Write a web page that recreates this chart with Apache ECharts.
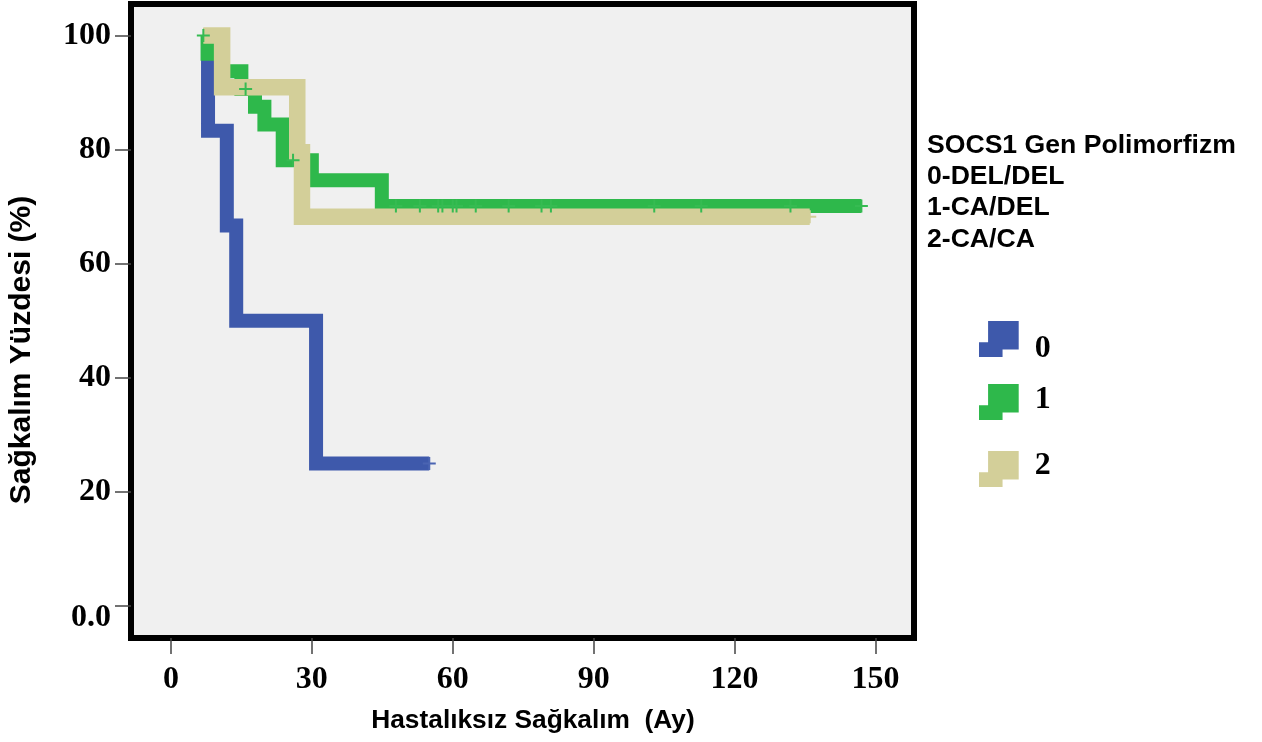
<!DOCTYPE html>
<html>
<head>
<meta charset="utf-8">
<script src="https://cdn.jsdelivr.net/npm/echarts@6/dist/echarts.min.js"></script>
<style>
html,body{margin:0;padding:0;background:#fff;}
#c{width:1262px;height:742px;}
</style>
</head>
<body>
<div id="c"></div>
<script>
// ---- data ----
const groupNames = ['0', '1', '2'];
const xTickValues = [0, 30, 60, 90, 120, 150];
const yTickValues = [0, 20, 40, 60, 80, 100];

// Kaplan-Meier step curves (time in months, survival %)
const blueTimes = [6.9, 7.9, 11.9, 13.9, 30.9, 55.0];
const blueSurv  = [100, 83.3, 66.7, 50.0, 25.0, 25.0];
const greenTimes = [6.9, 7.8, 10.9, 15.0, 17.9, 19.9, 23.8, 30.0, 44.9, 147.0];
const greenSurv  = [100, 96.8, 93.7, 90.6, 87.5, 84.4, 78.1, 74.6, 70.1, 70.1];
const tanTimes = [6.9, 10.9, 26.9, 27.9, 136.0];
const tanSurv  = [100, 90.9, 79.5, 68.2, 68.2];

// censored observations
const blueCensorT = [55.0];
const blueCensorS = [25.0];
const greenCensorT = [6.9, 15.9, 26.0, 47.9, 53.0, 56.9, 57.8, 60.0, 60.8, 64.9, 71.9, 78.9, 80.9, 102.9, 112.9, 131.9, 147.0];
const greenCensorS = [100, 90.6, 78.1, 70.1, 70.1, 70.1, 70.1, 70.1, 70.1, 70.1, 70.1, 70.1, 70.1, 70.1, 70.1, 70.1, 70.1];
const tanCensorT = [136.0];
const tanCensorS = [68.2];

const legendTitle = ['SOCS1 Gen Polimorfizm', '0-DEL/DEL', '1-CA/DEL', '2-CA/CA'];
const xTitle = 'Hastalıksız Sağkalım  (Ay)';
const yTitle = 'Sağkalım Yüzdesi (%)';

// ---- style ----
const colors = ['#3e59ab', '#2eb84b', '#d3cf99'];
const censorColors = ['#4a64b2', '#36bb52', '#d3cf99'];
const widths = [14, 14, 16.5];
const serif = 'Liberation Serif, Times New Roman, serif';
const sans = 'Liberation Sans, Arial, sans-serif';
const plusPath = 'path://M5.5,0H7.5V5.5H13V7.5H7.5V13H5.5V7.5H0V5.5H5.5Z';
const iconPath = 'path://M0,63L27,63L27,0L118,0L118,85L70,85L70,107L0,107Z';
const legendTops = [321, 384, 450];
const legendTextPad = [[20, 0, 0, 0], [0, 0, 4, 0], [0, 0, 6, 0]];

const zip = (a, b) => a.map((v, i) => [v, b[i]]);
const curves = [zip(blueTimes, blueSurv), zip(greenTimes, greenSurv), zip(tanTimes, tanSurv)];
const censors = [zip(blueCensorT, blueCensorS), zip(greenCensorT, greenCensorS), zip(tanCensorT, tanCensorS)];

const series = [];
curves.forEach((d, i) => {
  series.push({
    name: groupNames[i], type: 'line', data: d, step: 'end',
    showSymbol: false, symbol: 'none', z: 2 + i,
    lineStyle: { color: colors[i], width: widths[i], join: 'miter', cap: 'butt', miterLimit: 10 },
    itemStyle: { color: colors[i] }
  });
});
censors.forEach((d, i) => {
  series.push({
    name: 'c' + i, type: 'scatter', data: d, symbol: plusPath, symbolSize: 13,
    z: 10, itemStyle: { color: censorColors[i], opacity: 1 }, silent: true
  });
});

const digitStyle = { fontFamily: serif, fontWeight: 'bold', fontSize: 32, color: '#000' };

const legends = groupNames.map((n, i) => ({
  orient: 'vertical', left: 979, top: legendTops[i], padding: 0,
  itemWidth: 40, itemHeight: 36,
  data: [{ name: n, icon: iconPath, itemStyle: { color: colors[i] } }],
  formatter: name => '{a|' + name + '}',
  textStyle: Object.assign({
    padding: [0, 0, 0, 11],
    rich: { a: Object.assign({ padding: legendTextPad[i] }, digitStyle) }
  }, digitStyle),
  selectedMode: false
}));

const chart = echarts.init(document.getElementById('c'), null, { renderer: 'canvas' });
chart.setOption({
  animation: false,
  backgroundColor: '#ffffff',
  grid: {
    left: 131, top: 4, width: 783, height: 634, show: true,
    backgroundColor: '#f0f0f0', borderColor: '#000', borderWidth: 6
  },
  xAxis: {
    type: 'value', min: -8.5, max: 158.2, position: 'bottom',
    axisLine: { show: false, onZero: false },
    splitLine: { show: false },
    axisTick: { show: true, inside: false, length: 16, customValues: xTickValues, lineStyle: { color: '#444', width: 1.5 } },
    axisLabel: Object.assign({ customValues: xTickValues, margin: 26 }, digitStyle)
  },
  yAxis: {
    type: 'value', min: -5.6, max: 105.5, position: 'left',
    axisLine: { show: false, onZero: false },
    splitLine: { show: false },
    axisTick: { show: true, inside: false, length: 16, customValues: yTickValues, lineStyle: { color: '#444', width: 1.5 } },
    axisLabel: Object.assign({
      customValues: yTickValues, margin: 20,
      formatter: v => v === 0 ? '{z|0.0}' : String(v),
      rich: { z: Object.assign({ padding: [24, 0, 0, 0] }, digitStyle) }
    }, digitStyle)
  },
  legend: legends,
  graphic: [
    ...legendTitle.map((t, i) => ({
      type: 'text', left: 927, top: 132 + i * 31.3,
      style: { text: t, font: 'bold 26.6px ' + sans, fill: '#000' }
    })),
    {
      type: 'text', x: 533, y: 721,
      style: { text: xTitle, font: 'bold 26.3px ' + sans, fill: '#000', align: 'center', verticalAlign: 'middle' }
    },
    {
      type: 'text', x: 22, y: 350, rotation: Math.PI / 2,
      style: { text: yTitle, font: 'bold 30px ' + sans, fill: '#000', align: 'center', verticalAlign: 'middle' }
    }
  ],
  series: series
});
</script>
</body>
</html>
